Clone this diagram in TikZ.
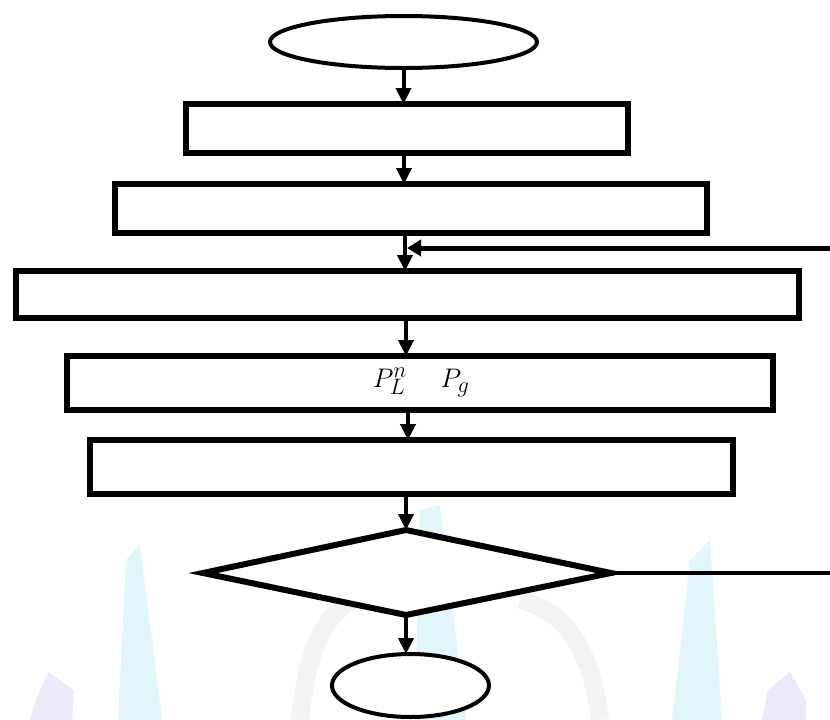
\documentclass[tikz,border=0pt]{standalone}
\usetikzlibrary{shapes.geometric,arrows.meta}
\definecolor{wmcyan}{RGB}{226,245,250}
\definecolor{wmlav}{RGB}{236,233,249}
\definecolor{wmgray}{RGB}{243,243,246}
\begin{document}
\begin{tikzpicture}[x=1pt,y=-1pt,
  box/.style={draw,rectangle,line width=6pt,inner sep=0pt,outer sep=0pt,fill=white},
  oval/.style={draw,ellipse,line width=4pt,inner sep=0pt,outer sep=0pt,fill=white},
  arr/.style={line width=4pt,-{Triangle[length=16pt,width=15pt]}},
  mathlbl/.style={inner sep=0pt,font=\fontsize{24.88}{28}\selectfont}]
\useasboundingbox (0,0) rectangle (830,720);
% faint background watermark
\fill[wmcyan] (118,720) -- (126,560) -- (140,545) -- (162,720) -- cycle;
\fill[wmcyan] (415,720) -- (420,510) -- (440,505) -- (466,720) -- cycle;
\fill[wmcyan] (672,720) -- (690,560) -- (710,540) -- (722,720) -- cycle;
\fill[wmlav] (30,720) -- (36,700) -- (48,672) -- (74,690) -- (72,720) -- cycle;
\fill[wmlav] (762,720) -- (768,690) -- (790,672) -- (806,700) -- (806,720) -- cycle;
\draw[wmgray,line width=18pt] (300,720) .. controls (310,620) and (340,600) .. (380,590);
\draw[wmgray,line width=18pt] (600,720) .. controls (590,640) and (560,610) .. (520,600);
% nodes
\node[oval,minimum width=267pt,minimum height=52pt] (start) at (403.5,42) {};
\node[box,minimum width=442pt,minimum height=49pt] (b1) at (407,128.5) {};
\node[box,minimum width=592pt,minimum height=49pt] (b2) at (411,208.5) {};
\node[box,minimum width=783pt,minimum height=47pt] (b3) at (407.5,294.5) {};
\node[box,minimum width=706pt,minimum height=54pt] (b4) at (420,383) {};
\node[box,minimum width=643pt,minimum height=54pt] (b5) at (411.5,467) {};
\coordinate (dtop) at (406,530);
\coordinate (dright) at (611,573);
\coordinate (dbot) at (406,615);
\coordinate (dleft) at (203,573);
\filldraw[fill=white,draw=black,line width=6pt,line join=miter] (dtop) -- (dright) -- (dbot) -- (dleft) -- cycle;
\node[oval,minimum width=157pt,minimum height=63pt] (stop) at (410.5,685.5) {};
\node[mathlbl] (pl) at (390,381) {\scalebox{1.08}{$P_L^n$}};
\node[mathlbl] (pg) at (455,383) {\scalebox{1.08}{$P_g$}};
% outside ends
\coordinate (fbin) at (830,248);
\coordinate (noout) at (830,573);
% connectors
\draw[arr] (start.south) -- (start.south |- b1.north);
\draw[arr] (b1.south -| 404,0) -- (b2.north -| 404,0);
\draw[arr] (b2.south -| 405,0) -- (b3.north -| 405,0);
\draw[line width=5pt,-{Triangle[length=14pt,width=16pt]}] (fbin) -- (407,248);
\draw[arr] (b3.south -| 406,0) -- (b4.north -| 406,0);
\draw[arr] (b4.south -| 408,0) -- (b5.north -| 408,0);
\draw[arr] (b5.south -| 406,0) -- (dtop);
\draw[arr] (dbot) -- (stop.north -| dbot);
\draw[line width=4pt] (dright) -- (noout);
\end{tikzpicture}
\end{document}
